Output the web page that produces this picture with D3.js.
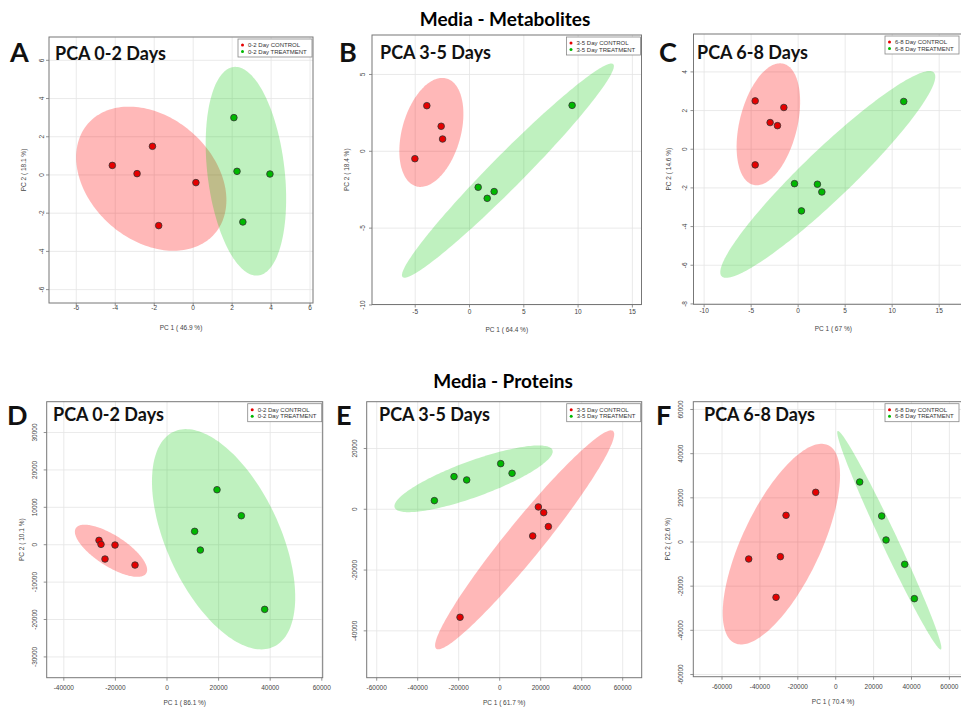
<!DOCTYPE html>
<html>
<head>
<meta charset="utf-8">
<script src="https://cdn.jsdelivr.net/npm/d3@7"></script>
<style>
  body { margin: 0; background: #fff; }
  svg { display: block; }
</style>
</head>
<body>
<div id="chart"></div>
<script>
// ---- scores: [PC1, PC2] per sample ----
const metab02Control   = [[-4.15, 0.50], [-2.88, 0.07], [-2.09, 1.50], [0.14, -0.40], [-1.77, -2.65]];
const metab02Treatment = [[2.09, 3.00], [2.25, 0.19], [3.94, 0.05], [2.55, -2.46]];
const metab35Control   = [[-3.93, 2.97], [-2.61, 1.63], [-2.48, 0.80], [-5.03, -0.48]];
const metab35Treatment = [[9.45, 2.99], [0.80, -2.34], [2.27, -2.62], [1.63, -3.06]];
const metab68Control   = [[-4.57, 2.50], [-1.52, 2.16], [-2.98, 1.38], [-2.20, 1.22], [-4.57, -0.81]];
const metab68Treatment = [[11.23, 2.47], [-0.39, -1.78], [2.05, -1.81], [2.52, -2.21], [0.35, -3.19]];
const prot02Control    = [[-26350, 1160], [-25580, 90], [-20150, -90], [-24030, -3830], [-12400, -5440]];
const prot02Treatment  = [[19380, 14700], [28810, 7750], [10720, 3570], [12920, -1430], [37860, -17290]];
const prot35Control    = [[18860, 770], [21460, -1100], [23740, -5700], [16100, -8770], [-19350, -35530]];
const prot35Treatment  = [[-31870, 2850], [-22280, 10750], [-16100, 9650], [490, 15020], [6020, 11840]];
const prot68Control    = [[-10550, 22490], [-26210, 12080], [-29200, -6640], [-45910, -7700], [-31490, -25060]];
const prot68Treatment  = [[12660, 27170], [24270, 11770], [26560, 910], [36410, -10110], [41510, -25660]];

// ---- tick values ----
const ticksA_x = [-6, -4, -2, 0, 2, 4, 6];
const ticksA_y = [-6, -4, -2, 0, 2, 4, 6];
const ticksB_x = [-5, 0, 5, 10, 15];
const ticksB_y = [-10, -5, 0, 5];
const ticksC_x = [-10, -5, 0, 5, 10, 15];
const ticksC_y = [-8, -6, -4, -2, 0, 2, 4];
const ticksD_x = [-40000, -20000, 0, 20000, 40000, 60000];
const ticksD_y = [-30000, -20000, -10000, 0, 10000, 20000, 30000];
const ticksE_x = [-60000, -40000, -20000, 0, 20000, 40000, 60000];
const ticksE_y = [-40000, -20000, 0, 20000];
const ticksF_x = [-60000, -40000, -20000, 0, 20000, 40000, 60000];
const ticksF_y = [-60000, -40000, -20000, 0, 20000, 40000, 60000];

// ---- labels ----
const sectionTitles = ["Media - Metabolites", "Media - Proteins"];
const panelLetters  = ["A", "B", "C", "D", "E", "F"];
const panelTitles   = ["PCA 0-2 Days", "PCA 3-5 Days", "PCA 6-8 Days", "PCA 0-2 Days", "PCA 3-5 Days", "PCA 6-8 Days"];
const groupLabels   = [["0-2 Day CONTROL", "0-2 Day TREATMENT"], ["3-5 Day CONTROL", "3-5 Day TREATMENT"],
                       ["6-8 Day CONTROL", "6-8 Day TREATMENT"]];
const xTitles = ["PC 1 ( 46.9 %)", "PC 1 ( 64.4 %)", "PC 1 ( 67 %)", "PC 1 ( 86.1 %)", "PC 1 ( 61.7 %)", "PC 1 ( 70.4 %)"];
const yTitles = ["PC 2 ( 18.1 %)", "PC 2 ( 18.4 %)", "PC 2 ( 14.6 %)", "PC 2 ( 10.1 %)", "", "PC 2 ( 22.6 %)"];

// layout of each screenshot panel (box in px, axis domains)
const panels = [
  {box: [49, 37, 313, 303],   xDom: [-7.40, 6.15],     yDom: [-6.70, 7.22],     xt: ticksA_x, yt: ticksA_y,
   ctrl: metab02Control, trt: metab02Treatment, grp: 0, letter: [10, 62], title: [55, 59.5], lab: 7},
  {box: [372, 35, 641.5, 304.5], xDom: [-8.98, 15.84], yDom: [-9.97, 7.57],     xt: ticksB_x, yt: ticksB_y,
   ctrl: metab35Control, trt: metab35Treatment, grp: 1, letter: [339, 62], title: [380, 58.5], lab: 9},
  {box: [693.5, 34, 964, 304.3], xDom: [-11.13, 17.64], yDom: [-8.02, 5.96],    xt: ticksC_x, yt: ticksC_y,
   ctrl: metab68Control, trt: metab68Treatment, grp: 2, letter: [659, 62], title: [697, 58.5], lab: 9},
  {box: [46.7, 401.7, 322.7, 677.7], xDom: [-46630, 60350], yDom: [-35560, 38240], xt: ticksD_x, yt: ticksD_y,
   ctrl: prot02Control, trt: prot02Treatment, grp: 0, letter: [7, 425], title: [53, 420.5], lab: 12},
  {box: [366.7, 401.7, 641.7, 677.7], xDom: [-64880, 69270], yDom: [-55420, 35400], xt: ticksE_x, yt: ticksE_y,
   ctrl: prot35Control, trt: prot35Treatment, grp: 1, letter: [336, 425], title: [379, 420.5], lab: 12},
  {box: [693.3, 401.7, 969, 676.7], xDom: [-75150, 70340], yDom: [-61000, 63530], xt: ticksF_x, yt: ticksF_y,
   ctrl: prot68Control, trt: prot68Treatment, grp: 2, letter: [656, 425], title: [704, 420.5], lab: 12}
];

const colors = {
  ctrlPt: "#e60000", trtPt: "#00b800",
  ctrlFill: "rgba(255,0,0,0.28)", trtFill: "rgba(0,200,0,0.25)"
};
const labelFont = "'Liberation Sans', Arial, sans-serif";
const titleFont = "Lato, 'Open Sans', sans-serif";

const svg = d3.select("#chart").append("svg")
  .attr("width", 961)
  .attr("height", 709);

svg.append("text").attr("x", 505).attr("y", 26).attr("text-anchor", "middle")
  .style("font", "bold 19px " + titleFont).text(sectionTitles[0]);
svg.append("text").attr("x", 503).attr("y", 388).attr("text-anchor", "middle")
  .style("font", "bold 19px " + titleFont).text(sectionTitles[1]);

// 95% confidence ellipse from sample covariance (as MetaboAnalyst draws it)
function ellipse(pts) {
  const mx = d3.mean(pts, d => d[0]), my = d3.mean(pts, d => d[1]);
  let sxx = 0, syy = 0, sxy = 0;
  pts.forEach(p => {
    const dx = p[0] - mx, dy = p[1] - my;
    sxx += dx * dx; syy += dy * dy; sxy += dx * dy;
  });
  const k = pts.length - 1;
  sxx /= k; syy /= k; sxy /= k;
  const half = (sxx + syy) / 2, r = Math.sqrt(((sxx - syy) / 2) ** 2 + sxy * sxy);
  const a = Math.sqrt(half + r), b = Math.sqrt(Math.max(half - r, 0));
  const ang = 0.5 * Math.atan2(2 * sxy, sxx - syy);
  const t = Math.sqrt(-2 * Math.log(0.05));
  return d3.range(0, 2 * Math.PI, Math.PI / 90).map(th => {
    const u = t * a * Math.cos(th), v = t * b * Math.sin(th);
    return [mx + u * Math.cos(ang) - v * Math.sin(ang), my + u * Math.sin(ang) + v * Math.cos(ang)];
  });
}

panels.forEach((p, i) => {
  const [x0, y0, x1, y1] = p.box;
  const x = d3.scaleLinear().domain(p.xDom).range([x0, x1]);
  const y = d3.scaleLinear().domain(p.yDom).range([y1, y0]);
  const g = svg.append("g");

  g.append("clipPath").attr("id", "clip" + i)
    .append("rect").attr("x", x0).attr("y", y0).attr("width", x1 - x0).attr("height", y1 - y0);

  // grid
  g.selectAll(".gx").data(p.xt).enter().append("line")
    .attr("x1", d => x(d)).attr("x2", d => x(d)).attr("y1", y0).attr("y2", y1)
    .attr("stroke", "#e4e4e4").attr("stroke-width", 0.8);
  g.selectAll(".gy").data(p.yt).enter().append("line")
    .attr("y1", d => y(d)).attr("y2", d => y(d)).attr("x1", x0).attr("x2", x1)
    .attr("stroke", "#e4e4e4").attr("stroke-width", 0.8);

  // ellipses
  const line = d3.line().x(d => x(d[0])).y(d => y(d[1])).curve(d3.curveLinearClosed);
  const eg = g.append("g").attr("clip-path", "url(#clip" + i + ")");
  eg.append("path").attr("d", line(ellipse(p.ctrl))).attr("fill", colors.ctrlFill);
  eg.append("path").attr("d", line(ellipse(p.trt))).attr("fill", colors.trtFill);

  // points
  [[p.ctrl, colors.ctrlPt], [p.trt, colors.trtPt]].forEach(([pts, c]) => {
    g.selectAll(null).data(pts).enter().append("circle")
      .attr("cx", d => x(d[0])).attr("cy", d => y(d[1])).attr("r", 3.3)
      .attr("fill", c).attr("stroke", "#333").attr("stroke-width", 0.8);
  });

  // box
  g.append("rect").attr("x", x0).attr("y", y0).attr("width", x1 - x0).attr("height", y1 - y0)
    .attr("fill", "none").attr("stroke", "#777").attr("stroke-width", 1);

  // ticks and tick labels
  g.selectAll(".tx").data(p.xt).enter().append("line")
    .attr("x1", d => x(d)).attr("x2", d => x(d)).attr("y1", y1).attr("y2", y1 + 3)
    .attr("stroke", "#777").attr("stroke-width", 0.8);
  g.selectAll(".lx").data(p.xt).enter().append("text")
    .attr("x", d => x(d)).attr("y", y1 + p.lab).attr("text-anchor", "middle")
    .style("font", "6.5px " + labelFont).attr("fill", "#444").text(d => d);
  g.selectAll(".ty").data(p.yt).enter().append("line")
    .attr("y1", d => y(d)).attr("y2", d => y(d)).attr("x1", x0).attr("x2", x0 - 3)
    .attr("stroke", "#777").attr("stroke-width", 0.8);
  g.selectAll(".ly").data(p.yt).enter().append("text")
    .attr("transform", d => "translate(" + (x0 - p.lab + 2) + "," + y(d) + ") rotate(-90)")
    .attr("text-anchor", "middle")
    .style("font", "6.5px " + labelFont).attr("fill", "#444").text(d => d);

  // axis titles
  g.append("text").attr("x", (x0 + Math.min(x1, 961)) / 2 + (i === 2 || i === 5 ? 6 : 0)).attr("y", y1 + 27)
    .attr("text-anchor", "middle").style("font", "6.5px " + labelFont).attr("fill", "#444")
    .text(xTitles[i]);
  g.append("text").attr("transform", "translate(" + (x0 - 23) + "," + ((y0 + y1) / 2) + ") rotate(-90)")
    .attr("text-anchor", "middle").style("font", "6.5px " + labelFont).attr("fill", "#444")
    .text(yTitles[i]);

  // legend (kept inside the window for the cut-off right column)
  const lw = 74, lx = Math.min(x1, 960) - lw - 1, ly = y0 + 2;
  const lg = g.append("g");
  lg.append("rect").attr("x", lx).attr("y", ly).attr("width", lw).attr("height", 18)
    .attr("fill", "#fff").attr("stroke", "#888").attr("stroke-width", 0.8);
  groupLabels[p.grp].forEach((t, k) => {
    lg.append("circle").attr("cx", lx + 4.5).attr("cy", ly + 6 + k * 6.5).attr("r", 1.5)
      .attr("fill", k === 0 ? colors.ctrlPt : colors.trtPt);
    lg.append("text").attr("x", lx + 10).attr("y", ly + 8 + k * 6.5)
      .style("font", "6px " + labelFont).attr("fill", "#333").text(t);
  });

  // panel title and letter
  svg.append("text").attr("x", p.title[0]).attr("y", p.title[1])
    .style("font", "bold 18px " + titleFont).attr("fill", "#111").text(panelTitles[i]);
  svg.append("text").attr("x", p.letter[0]).attr("y", p.letter[1])
    .style("font", "bold 27px " + titleFont).attr("fill", "#111").text(panelLetters[i]);
});
</script>
</body>
</html>
